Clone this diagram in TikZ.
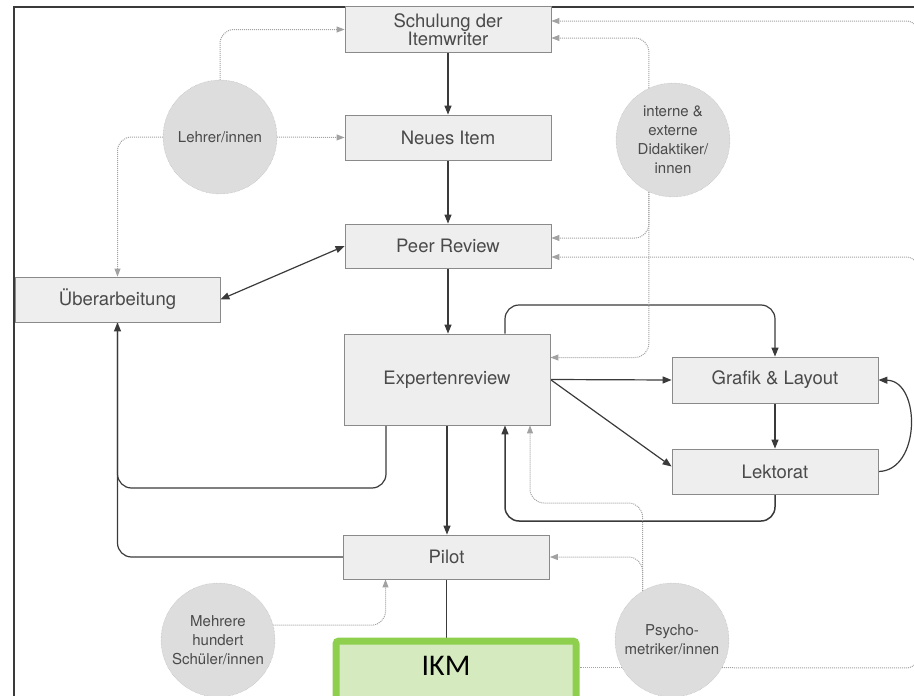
\documentclass[tikz,border=0pt]{standalone}
\usepackage{fontspec}
\setmainfont{TeX Gyre Heros}
\newfontfamily\ikmfont{Carlito}
\usetikzlibrary{arrows.meta,calc}
\pgfdeclarelayer{bg}
\pgfsetlayers{bg,main}
\definecolor{boxfill}{HTML}{EEEEEE}
\definecolor{boxline}{HTML}{8A8A8A}
\definecolor{circfill}{HTML}{DDDDDD}
\definecolor{circline}{HTML}{ABABAB}
\definecolor{txt}{HTML}{4A4A4A}
\definecolor{conn}{HTML}{A2A2A2}
\definecolor{dark}{HTML}{3A3A3A}
\definecolor{ikmline}{HTML}{8ED04E}
\definecolor{ikmfill}{HTML}{D5EBBF}
\tikzset{
  stepbox/.style={draw=boxline, fill=boxfill, line width=0.8pt, minimum width=206pt, minimum height=45pt, inner sep=0pt, text=txt, font=\fontsize{18.5}{18.5}\selectfont, align=center},
  person/.style={circle, draw=circline, densely dotted, fill=circfill, minimum size=114pt, inner sep=0pt, text=txt, font=\fontsize{15}{19}\selectfont, align=center},
  blk/.style={draw=dark, line width=1.2pt, rounded corners=14pt, -{Triangle[length=9pt,width=7pt]}},
  blkline/.style={draw=dark, line width=1.2pt, rounded corners=14pt},
  gry/.style={draw=conn, line width=1pt, densely dotted, rounded corners=14pt, -{Triangle[length=8pt,width=6pt,fill=conn,color=conn]}},
  gryline/.style={draw=conn, line width=1pt, densely dotted, rounded corners=14pt},
}
\begin{document}
\begin{tikzpicture}[x=1pt,y=-1pt]
\useasboundingbox (0,0) rectangle (914,696);
% frame
\draw[dark, line width=1.3pt] (14,698) -- (14,7) -- (916,7);

% boxes
\node[stepbox, minimum height=46pt] (schul) at (448,29.5) {Schulung der\\Itemwriter};
\node[stepbox] (neu) at (448,137.5) {Neues Item};
\node[stepbox, minimum height=44pt] (peer) at (448,246) {Peer Review};
\node[stepbox, minimum width=205pt] (ueber) at (117.5,299.5) {Überarbeitung};
\node[stepbox, minimum height=91pt] (expert) at (447,379.5) {Expertenreview};
\node[stepbox, minimum height=46pt] (grafik) at (775,380) {Grafik \& Layout};
\node[stepbox] (lekt) at (775,471.5) {Lektorat};
\node[stepbox, minimum height=44pt] (pilot) at (446.5,557) {Pilot};

% persons
\node[person] (lehrer) at (220,137) {Lehrer/innen};
\node[person] (didak) at (673,140) {interne \&\\externe\\Didaktiker/\\innen};
\node[person] (mehr) at (218,640) {Mehrere\\hundert\\Schüler/innen};
\node[person] (psych) at (672,640) {Psycho-\\metriker/innen};

% IKM
\node[draw=ikmline, fill=ikmfill, line width=7pt, rounded corners=3pt, minimum width=240pt, minimum height=70pt, inner sep=0pt, anchor=north west] (ikm) at (332.5,637.5) {};
\node[font=\ikmfont\fontsize{30}{30}\selectfont, text=black] (ikmt) at (446,666) {IKM};

\coordinate (eg) at (640,305);
\coordinate (le) at (640,521);
\coordinate (eu) at (250,488);
\coordinate (pe) at (600,503);
\coordinate (rb) at (920,668);
\coordinate (rm) at (920,257);
\coordinate (rm2) at (920,290);
\coordinate (rt) at (920,21);

\begin{pgfonlayer}{bg}
% black main flow
\draw[blk] (schul.south) -- (schul.south |- neu.north);
\draw[blk] (neu.south) -- (neu.south |- peer.north);
\draw[blk] (peer.south) -- (peer.south |- expert.north);
\draw[blk] (expert.south) -- (expert.south |- pilot.north);
\draw[blkline] (pilot.south) -- (pilot.south |- ikm.north);
\draw[draw=dark, line width=1.2pt, {Triangle[length=9pt,width=7pt]}-{Triangle[length=9pt,width=7pt]}] (ueber.east) -- (peer.west);
\draw[blk] (expert.east) -- (grafik.west);
\draw[blk] (expert.east) -- ([yshift=5pt]lekt.west);
\draw[blk] (grafik.south) -- (lekt.north);
\draw[blk] ([xshift=58pt]expert.north) |- (eg) -| (grafik.north);
\draw[blk] (lekt.east) .. controls (921,471) and (921,381) .. (grafik.east);
\draw[blk, line width=1.5pt] (lekt.south) |- (le) -| ([xshift=58pt]expert.south);
\draw[blk] ([xshift=-61pt]expert.south) |- (eu) -| (ueber.south);
\draw[blkline] (pilot.west) -| (ueber.south);

% gray dotted
\draw[gry] (lehrer.north) |- (schul.west);
\draw[gry] (lehrer.east) -- (neu.west);
\draw[gry] (lehrer.west) -| (ueber.north);
\draw[gry] (didak.115) |- ([yshift=-8.5pt]schul.east);
\draw[gry] (didak.245) |- ([yshift=8pt]peer.east);
\draw[gry] (didak.245) |- ([yshift=22pt]expert.east);
\draw[gry] (psych.-29) -- (rb) -- (rm) -- ([yshift=-11pt]peer.east);
\draw[gry] (rm2) -- (rt) -- ([yshift=8.5pt]schul.east);
\draw[gryline] (psych.209) -- (ikm.east |- psych.209);
\draw[gry] (psych.121) |- (pilot.east);
\draw[gry] (psych.121) |- (pe) -| ([xshift=83pt]expert.south);
\draw[gry] (mehr.15) -| ([xshift=-61pt]pilot.south);
\end{pgfonlayer}
\end{tikzpicture}
\end{document}
